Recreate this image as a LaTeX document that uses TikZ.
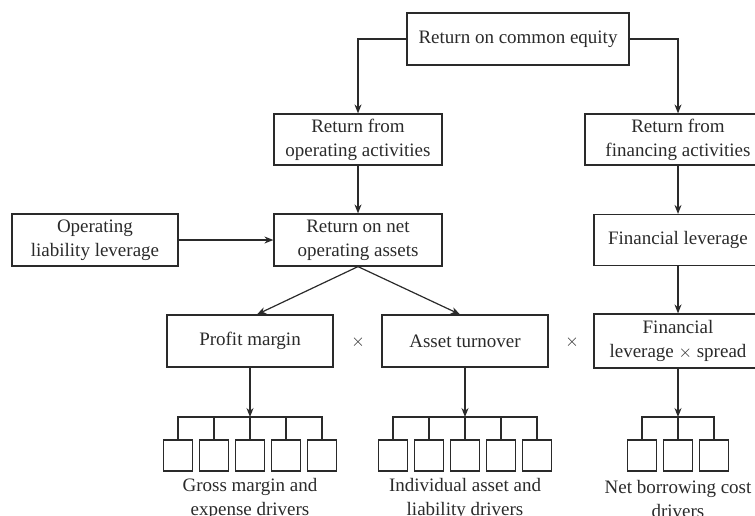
\documentclass[tikz,border=0pt]{standalone}
\usepackage{fontspec}
\setmainfont{Liberation Serif}
\usetikzlibrary{arrows.meta}
\definecolor{ink}{HTML}{2A2A2A}
\begin{document}
\begin{tikzpicture}[x=1pt,y=-1pt,
  every node/.style={text=ink,font=\fontsize{19}{24}\selectfont},
  box/.style={draw=ink,line width=1.2pt,align=center,inner sep=0pt,
    minimum height=52pt},
  leaf/.style={draw=ink,line width=1.2pt,inner sep=0pt,minimum width=29pt,minimum height=31pt},
  lbl/.style={align=center,inner sep=0pt},
  conn/.style={draw=ink,line width=1.2pt},
  arr/.style={conn,-{Stealth[length=9pt,width=7pt]}}]
\useasboundingbox (0,0) rectangle (755,515);
\clip (0,0) rectangle (755,515);

% upper boxes
\node[box,minimum width=222pt] (roce) at (518,39) {Return on common equity};
\node[box,minimum width=168pt,minimum height=51pt] (rfoa) at (358,139.5) {Return from\\operating activities};
\node[box,minimum width=186pt,minimum height=51pt] (rffa) at (678,139.5) {Return from\\financing activities};
\node[box,minimum width=166pt] (oll) at (95,240) {Operating\\liability leverage};
\node[box,minimum width=168pt] (rnoa) at (358,240) {Return on net\\operating assets};
\node[box,minimum width=168pt,minimum height=51pt] (flev) at (678,240) {Financial leverage};

% ratio row
\node[box,minimum width=166pt] (pm) at (250,341) {Profit margin};
\node[box,minimum width=166pt] (at) at (465,341) {Asset turnover};
\node[box,minimum width=168pt,minimum height=54pt] (fls) at (678,341) {Financial\\leverage $\times$ spread};
\node (x1) at (358,342) {$\times$};
\node (x2) at (572,342) {$\times$};

% connectors between the upper boxes
\draw[arr] (roce.west) -| (rfoa.north);
\draw[arr] (roce.east) -| (rffa.north);
\draw[arr] (rfoa.south) -- (rnoa.north);
\draw[arr] (rffa.south) -- (flev.north);
\draw[arr] (flev.south) -- (fls.north);
\draw[arr] (oll.east) -- (rnoa.west);
\coordinate (pmin) at ([xshift=7pt]pm.north);
\coordinate (atin) at ([xshift=-5pt]at.north);
\draw[arr] (rnoa.south) -- (pmin);
\draw[arr] (rnoa.south) -- (atin);

% driver leaves
\foreach \i/\x in {1/178,2/214,3/250,4/286,5/322} \node[leaf] (g\i) at (\x,455.5) {};
\foreach \i/\x in {1/393,2/429,3/465,4/501,5/537} \node[leaf] (a\i) at (\x,455.5) {};
\foreach \i/\x in {1/642,2/678,3/714} \node[leaf] (n\i) at (\x,455.5) {};

\coordinate (gj) at (250,417);
\coordinate (aj) at (465,417);
\coordinate (nj) at (678,417);

% branching brackets
\draw[conn] (g1.north) |- (gj) -| (g5.north);
\foreach \i in {2,3,4} \draw[conn] (g\i.north) -- (g\i.north |- gj);
\draw[conn] (a1.north) |- (aj) -| (a5.north);
\foreach \i in {2,3,4} \draw[conn] (a\i.north) -- (a\i.north |- aj);
\draw[conn] (n1.north) |- (nj) -| (n3.north);
\draw[conn] (n2.north) -- (n2.north |- nj);

\draw[arr] (pm.south) -- (gj);
\draw[arr] (at.south) -- (aj);
\draw[arr] (fls.south) -- (nj);

% captions
\node[lbl] (gcap) at (250,499) {Gross margin and\\expense drivers};
\node[lbl] (acap) at (465,499) {Individual asset and\\liability drivers};
\node[lbl] (ncap) at (678,499) {Net borrowing cost\\drivers};
\end{tikzpicture}
\end{document}
